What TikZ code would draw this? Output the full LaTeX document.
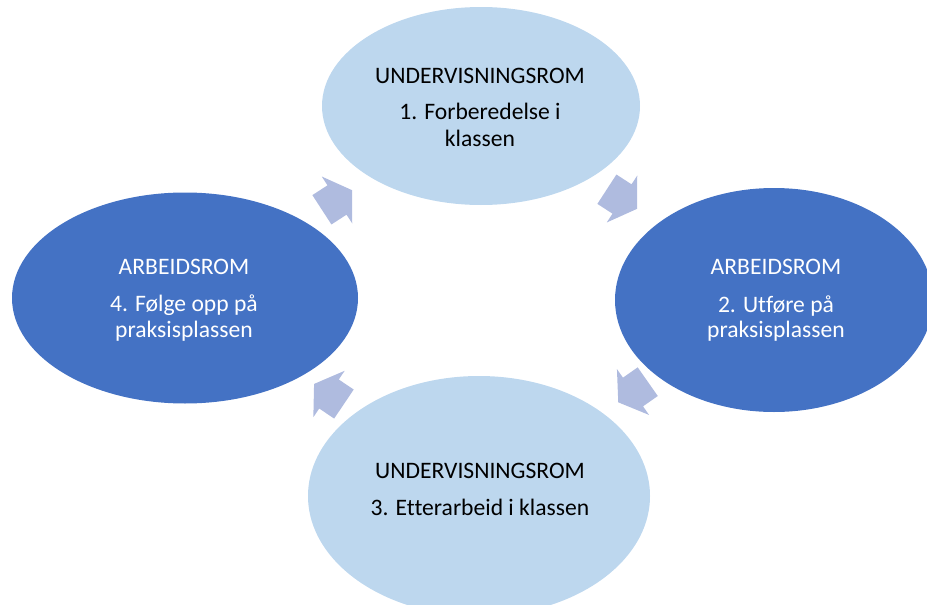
\documentclass[tikz,border=0pt]{standalone}
\usepackage{fontspec}
\setmainfont[Ligatures=NoCommon]{Carlito}
\usetikzlibrary{shapes.geometric}
\definecolor{lightb}{HTML}{BDD7EE}
\definecolor{darkb}{HTML}{4472C4}
\definecolor{arrowc}{HTML}{AFBBDF}
\tikzset{
  lightell/.style={ellipse, fill=lightb, inner sep=0pt},
  darkell/.style={ellipse, fill=darkb, inner sep=0pt},
  lbl/.style={anchor=base, inner sep=0pt, font=\fontsize{23.6}{27}\selectfont},
  lbldark/.style={lbl, text=black},
  lbllight/.style={lbl, text=white},
  cyclearrow/.pic={\fill[arrowc] (-18,-17.5) -- (0,-17.5) -- (0,-28) -- (18,0) -- (0,28) -- (0,17.5) -- (-18,17.5) -- cycle;}
}
\begin{document}
\begin{tikzpicture}[x=1pt,y=-1pt]
\useasboundingbox (0,0) rectangle (927,605);
\begin{scope}
\clip (0,0) rectangle (927,605);
% ellipses
\node[lightell, minimum width=318pt, minimum height=198pt] (n1) at (481,106) {};
\node[darkell, minimum width=318pt, minimum height=224pt] (n2) at (774,300) {};
\node[lightell, minimum width=342pt, minimum height=240pt] (n3) at (479,496) {};
\node[darkell, minimum width=346pt, minimum height=211pt] (n4) at (185,298) {};
% arrows
\pic (a1) [rotate=-33] at (622,199) {cyclearrow};
\pic (a2) [rotate=215] at (633,392) {cyclearrow};
\pic (a3) [rotate=146] at (329,394) {cyclearrow};
\pic (a4) [rotate=33] at (337,200) {cyclearrow};
% texts
\node[lbldark] (t1a) at (480,83) {UNDERVISNINGSROM};
\node[lbldark] (t1b) at (480,119) {1. Forberedelse i};
\node[lbldark] (t1c) at (480,146) {klassen};
\node[lbllight] (t2a) at (776,274) {ARBEIDSROM};
\node[lbllight] (t2b) at (776,312) {2. Utføre på};
\node[lbllight] (t2c) at (776,337) {praksisplassen};
\node[lbldark] (t3a) at (480,478) {UNDERVISNINGSROM};
\node[lbldark] (t3b) at (480,515) {3. Etterarbeid i klassen};
\node[lbllight] (t4a) at (184,274) {ARBEIDSROM};
\node[lbllight] (t4b) at (184,311) {4. Følge opp på};
\node[lbllight] (t4c) at (184,337) {praksisplassen};
\end{scope}
\end{tikzpicture}
\end{document}
